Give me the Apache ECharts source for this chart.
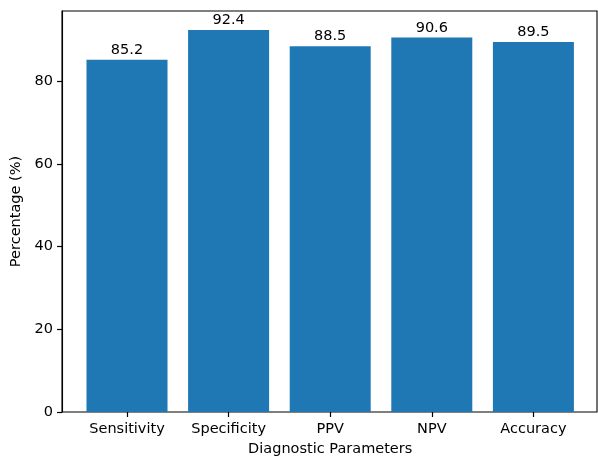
<!DOCTYPE html>
<html><head><meta charset="utf-8">
<script src="https://cdn.jsdelivr.net/npm/echarts@6/dist/echarts.min.js"></script>
<style>html,body{margin:0;padding:0;background:#fff}#c{width:598px;height:458px}</style>
</head><body><div id="c"></div>
<script>
const categories = ["Sensitivity", "Specificity", "PPV", "NPV", "Accuracy"];
const values = [85.2, 92.4, 88.5, 90.6, 89.5];
const yTicks = [0, 20, 40, 60, 80];

const FONT = "DejaVu Sans";
const FS = 14.5;
const YMAX = 97.02;
const chart = echarts.init(document.getElementById('c'), null, {renderer: 'canvas'});
chart.setOption({
  animation: false,
  textStyle: {fontFamily: FONT},
  grid: [
    {left: 76.2, right: 13.8, top: 11, bottom: 46, show: false, containLabel: false, outerBoundsMode: 'none'},
    {left: 62, right: 1, top: 11, bottom: 46, show: true, borderColor: '#000', borderWidth: 1.1,
      containLabel: false, outerBoundsMode: 'none'}
  ],
  xAxis: [{
    type: 'category', gridIndex: 0, data: categories, boundaryGap: true,
    name: 'Diagnostic Parameters', nameLocation: 'middle', nameGap: 30,
    nameTextStyle: {fontFamily: FONT, fontSize: FS, color: '#000'},
    axisLine: {show: false, onZero: false},
    splitLine: {show: false},
    axisTick: {show: true, inside: false, alignWithLabel: true, length: 5, lineStyle: {color: '#000', width: 1.2}},
    axisLabel: {show: true, interval: 0, margin: 10, fontFamily: FONT, fontSize: FS, color: '#000'}
  }, {
    type: 'value', gridIndex: 1, min: 0, max: 1, show: false
  }],
  yAxis: [{
    type: 'value', gridIndex: 0, min: 0, max: YMAX, show: false
  }, {
    type: 'value', gridIndex: 1, min: 0, max: YMAX,
    name: 'Percentage (%)', nameLocation: 'middle', nameGap: 37,
    nameTextStyle: {fontFamily: FONT, fontSize: FS, color: '#000'},
    axisLine: {show: true, onZero: false, lineStyle: {color: '#000', width: 1.1}},
    splitLine: {show: false},
    axisTick: {show: true, inside: false, length: 5, lineStyle: {color: '#000', width: 1.2}, customValues: yTicks},
    axisLabel: {show: true, customValues: yTicks, margin: 9, fontFamily: FONT, fontSize: FS, color: '#000'}
  }],
  series: [{
    type: 'bar', xAxisIndex: 0, yAxisIndex: 0,
    data: values,
    barWidth: 81,
    itemStyle: {color: '#1f77b4'},
    label: {show: true, position: 'top', distance: 2, fontFamily: FONT, fontSize: FS, color: '#000',
      formatter: p => p.value.toFixed(1)}
  }]
});
</script></body></html>
